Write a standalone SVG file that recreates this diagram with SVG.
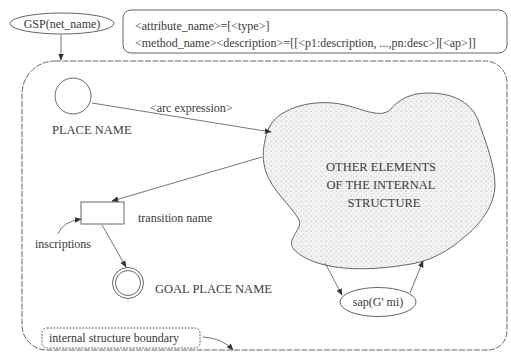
<svg xmlns="http://www.w3.org/2000/svg" width="511" height="353" viewBox="0 0 511 353">
<style>
  text { font-family: "Liberation Serif", "Times New Roman", serif; fill: #3a3a3a; }
  .lbl { font-size: 12px; }
  .caps { font-size: 12.5px; }
  .shape { fill: none; stroke: #666; stroke-width: 1; }
  .conn { fill: none; stroke: #666; stroke-width: 0.9; }
  .dash { stroke-dasharray: 6 1.5; }
  .dot { stroke-dasharray: 2 1.2; }
</style>
<defs>
  <marker id="arr" viewBox="0 0 10 10" refX="9" refY="5" markerWidth="7" markerHeight="7" markerUnits="userSpaceOnUse" orient="auto">
    <path d="M0,1 L10,5 L0,9 Z" fill="#333"/>
  </marker>
  <pattern id="stip" width="5" height="5" patternUnits="userSpaceOnUse">
    <rect width="5" height="5" fill="#f3f3f3"/>
    <circle cx="1.2" cy="1.2" r="0.7" fill="#c6c6c6"/>
    <circle cx="3.7" cy="3.7" r="0.6" fill="#d4d4d4"/>
  </pattern>
</defs>

<g id="boundary">
  <path class="shape dash" d="M55,61 H485 A22,22 0 0 1 507,83 V331 A19,19 0 0 1 488,350 H47 A25,25 0 0 1 22,325 V94 A33,33 0 0 1 55,61 Z"/>
</g>

<g id="gsp">
  <ellipse class="shape" cx="62" cy="23.5" rx="52" ry="10.5"/>
  <text class="lbl" x="62" y="27.5" text-anchor="middle">GSP(net_name)</text>
</g>

<g id="attributes">
  <rect class="shape" x="123" y="10" width="384" height="43" rx="8"/>
  <text class="lbl" x="135" y="30">&lt;attribute_name&gt;=[&lt;type&gt;]</text>
  <text class="lbl" x="135" y="47">&lt;method_name&gt;&lt;description&gt;=[[&lt;p1:description, ...,pn:desc&gt;][&lt;ap&gt;]]</text>
</g>

<g id="place">
  <circle class="shape" cx="73" cy="96" r="18"/>
  <text class="caps" x="52" y="134">PLACE NAME</text>
</g>

<g id="cloud">
  <path d="M265,140 C268,125 275,117 285,112 C300,103 325,100 345,105 C365,110 380,118 390,110 C398,100 410,93 428,93 C450,93 470,100 478,120 C485,140 495,165 495,185 C495,205 480,225 463,238 C450,250 430,262 405,265 C380,269 350,271 325,265 C305,260 288,250 292,240 C296,230 303,226 298,218 C290,205 272,190 266,172 C262,160 263,150 265,140 Z" fill="url(#stip)" stroke="#666" stroke-width="1"/>
  <text class="caps" x="381" y="171" text-anchor="middle">OTHER ELEMENTS</text>
  <text class="caps" x="381" y="189" text-anchor="middle">OF THE INTERNAL</text>
  <text class="caps" x="384" y="207" text-anchor="middle">STRUCTURE</text>
</g>

<g id="transition">
  <rect class="shape" x="81" y="202" width="43" height="22"/>
  <text class="lbl" x="138" y="222">transition name</text>
</g>

<g id="inscriptions">
  <text class="lbl" x="35" y="248">inscriptions</text>
</g>

<g id="goal">
  <circle class="shape" cx="128" cy="283" r="15.5"/>
  <circle class="shape" cx="128" cy="283" r="12.5"/>
  <text class="caps" x="155" y="293">GOAL PLACE NAME</text>
</g>

<g id="sap">
  <ellipse class="shape" cx="378" cy="302" rx="38" ry="14.5"/>
  <text class="lbl" x="378" y="306" text-anchor="middle">sap(G' mi)</text>
</g>

<g id="boundary-label">
  <rect class="shape dot" x="42" y="328" width="158" height="20" rx="5"/>
  <text class="lbl" x="49" y="342">internal structure boundary</text>
</g>

<g id="connectors">
  <line class="conn" x1="61" y1="35" x2="61" y2="60" marker-end="url(#arr)"/>
  <line class="conn" x1="92" y1="103" x2="271" y2="132" marker-end="url(#arr)"/>
  <text class="lbl" x="150" y="111.5">&lt;arc expression&gt;</text>
  <line class="conn" x1="262" y1="157" x2="112" y2="201" marker-end="url(#arr)"/>
  <path class="conn" d="M58,234 Q62,222 81,219" marker-end="url(#arr)"/>
  <line class="conn" x1="102" y1="225" x2="126" y2="267" marker-end="url(#arr)"/>
  <line class="conn" x1="325" y1="263" x2="342" y2="295" marker-end="url(#arr)"/>
  <line class="conn" x1="410" y1="293" x2="423" y2="261" marker-end="url(#arr)"/>
  <path class="conn" d="M203,337 Q222,338 233,350" marker-end="url(#arr)"/>
</g>
</svg>
